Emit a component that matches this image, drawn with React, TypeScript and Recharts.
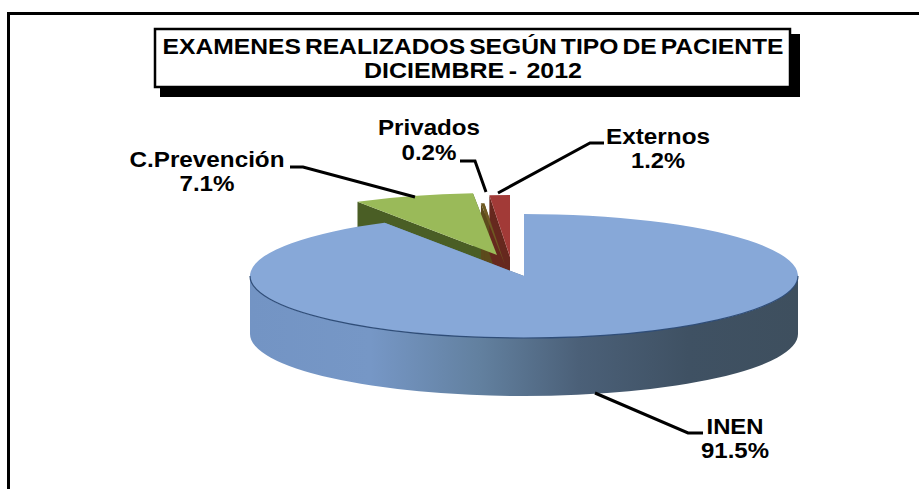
import React from 'react';
import { PieChart, Pie } from 'recharts';

const names = ['C.Prevención', 'Privados', 'Externos', 'INEN'];
const percents = [7.1, 0.2, 1.2, 91.5];
const chartData = names.map((name, i) => ({ name, value: percents[i] }));

const W = 919;
const H = 489;
const FONT = '"Liberation Sans", Arial, sans-serif';
const SQUASH = 62 / 274;
const DEPTH = 58;
const START = 120.6;

const faceFill: Record<string, string> = {
  'C.Prevención': '#9aba59',
  Privados: '#6f5a22',
  Externos: '#a23a37',
  INEN: '#87a8d8',
};
const wallFill: Record<string, string> = {
  'C.Prevención': '#4a5e25',
  Privados: '#5c4a1c',
  Externos: '#66281e',
  INEN: 'url(#inenWall)',
};
// how far each slice is pulled out of the pie
const pull: Record<string, [number, number]> = {
  'C.Prevención': [-27, -21],
  Privados: [-19, -11],
  Externos: [-14, -19],
  INEN: [0, 0],
};
// label text centre, text widths, leader line
const labelPos: Record<string, { x: number; y1: number; y2: number; w1: number; w2: number; line: string }> = {
  'C.Prevención': { x: 207, y1: 167, y2: 191, w1: 155, w2: 55, line: '290,167 303,167 415,197' },
  Privados: { x: 429, y1: 135, y2: 160, w1: 102, w2: 55, line: '460,161 475,161 486,192' },
  Externos: { x: 658, y1: 144, y2: 168, w1: 104, w2: 54, line: '604,143 590,143 498,193' },
  INEN: { x: 735, y1: 434, y2: 458, w1: 57, w2: 68, line: '703,433 688,433 595,393' },
};

function ellipse(props: any) {
  const { cx, cy, outerRadius, startAngle, endAngle, name, payload } = props;
  const key: string = name ?? payload?.name;
  const [dx, dy] = pull[key];
  const rx = outerRadius;
  const ry = outerRadius * SQUASH;
  const ax = cx + dx;
  const ay = cy + dy;
  const pt = (deg: number): [number, number] => {
    const r = (deg * Math.PI) / 180;
    return [ax + rx * Math.cos(r), ay - ry * Math.sin(r)];
  };
  return { key, cx, rx, ry, ax, ay, pt, startAngle, endAngle };
}

// first pass: side walls only, so that every top face lies above them
function WallShape(props: any) {
  const { key, cx, rx, ry, ax, ay, pt, startAngle, endAngle } = ellipse(props);
  const [sx, sy] = pt(startAngle);
  const [ex, ey] = pt(endAngle);
  const radial = (x: number, y: number) =>
    `M${ax},${ay} L${x},${y} L${x},${y + DEPTH} L${ax},${ay + DEPTH} Z`;

  // the outer wall shows only on the front half of the ellipse
  const hi = Math.min(startAngle, 0);
  const lo = Math.max(endAngle, -180);
  let wall = '';
  if (hi > lo) {
    const [p1x, p1y] = pt(hi);
    const [p2x, p2y] = pt(lo);
    wall = `M${p1x},${p1y} A${rx},${ry} 0 0 1 ${p2x},${p2y} L${p2x},${p2y + DEPTH} A${rx},${ry} 0 0 0 ${p1x},${p1y + DEPTH} Z`;
  }
  return (
    <g>
      <defs>
        <linearGradient id="inenWall" gradientUnits="userSpaceOnUse" x1={cx - rx} x2={cx + rx} y1="0" y2="0">
          <stop offset="0" stopColor="#7394c4" />
          <stop offset="0.22" stopColor="#7697c6" />
          <stop offset="0.42" stopColor="#62809f" />
          <stop offset="0.6" stopColor="#4b6078" />
          <stop offset="0.8" stopColor="#3f5163" />
          <stop offset="1" stopColor="#3e4f5e" />
        </linearGradient>
      </defs>
      <path d={radial(sx, sy)} fill={wallFill[key]} />
      <path d={radial(ex, ey)} fill={wallFill[key]} />
      {wall && <path d={wall} fill={wallFill[key]} />}
    </g>
  );
}

// second pass: top faces, leader lines and labels
function FaceShape(props: any) {
  const { key, rx, ry, ax, ay, pt, startAngle, endAngle } = ellipse(props);
  const [sx, sy] = pt(startAngle);
  const [ex, ey] = pt(endAngle);
  const large = Math.abs(startAngle - endAngle) > 180 ? 1 : 0;
  const face = `M${ax},${ay} L${sx},${sy} A${rx},${ry} 0 ${large} 1 ${ex},${ey} Z`;

  const hi = Math.min(startAngle, 0);
  const lo = Math.max(endAngle, -180);
  let rim = '';
  if (hi > lo) {
    const [p1x, p1y] = pt(hi);
    const [p2x, p2y] = pt(lo);
    rim = `M${p1x},${p1y} A${rx},${ry} 0 0 1 ${p2x},${p2y}`;
  }

  const lab = labelPos[key];
  const pct = `${props.payload?.value ?? props.value}%`;
  const textProps = {
    fontFamily: FONT,
    fontWeight: 700,
    fontSize: 22,
    fill: '#000',
    textAnchor: 'middle' as const,
    lengthAdjust: 'spacingAndGlyphs' as const,
  };
  return (
    <g>
      <path d={face} fill={faceFill[key]} />
      {rim && <path d={rim} fill="none" stroke="#2f4d78" strokeWidth={1.2} />}
      <polyline points={lab.line} fill="none" stroke="#000" strokeWidth={3} />
      <text {...textProps} x={lab.x} y={lab.y1} textLength={lab.w1}>{key}</text>
      <text {...textProps} x={lab.x} y={lab.y2} textLength={lab.w2}>{pct}</text>
    </g>
  );
}

function TitleFrame() {
  const t = {
    fontFamily: FONT,
    fontWeight: 700,
    fontSize: 22,
    fill: '#000',
    textAnchor: 'middle' as const,
    lengthAdjust: 'spacingAndGlyphs' as const,
  };
  return (
    <svg width={W} height={H} style={{ position: 'absolute', left: 0, top: 0 }}>
      <line x1={8.5} y1={13.5} x2={W} y2={13.5} stroke="#000" strokeWidth={3} />
      <line x1={8.5} y1={12} x2={8.5} y2={H} stroke="#000" strokeWidth={3} />
      <rect x={160} y={34} width={640} height={63} fill="#000" />
      <rect x={155} y={29} width={635} height={58} fill="#fff" stroke="#000" strokeWidth={2.5} />
      <text {...t} x={473} y={54} textLength={621} style={{ wordSpacing: -2.5 }}>EXAMENES REALIZADOS SEGÚN TIPO DE PACIENTE</text>
      <text {...t} x={473} y={78} textLength={218} style={{ whiteSpace: 'pre', wordSpacing: -2 }}>DICIEMBRE -  2012</text>
    </svg>
  );
}

export default function App() {
  const shared = {
    data: chartData,
    dataKey: 'value',
    nameKey: 'name',
    cx: 524,
    cy: 276,
    innerRadius: 0,
    outerRadius: 274,
    startAngle: START,
    endAngle: START - 360,
    stroke: 'none',
    isAnimationActive: false,
  };
  return (
    <div style={{ position: 'absolute', left: 0, top: 0, width: W, height: H, background: '#fff', overflow: 'hidden' }}>
      <TitleFrame />
      <div style={{ position: 'absolute', left: 0, top: 0 }}>
        <PieChart width={W} height={H} margin={{ top: 0, right: 0, bottom: 0, left: 0 }}>
          <Pie {...shared} shape={WallShape} />
          <Pie {...shared} shape={FaceShape} />
        </PieChart>
      </div>
    </div>
  );
}
